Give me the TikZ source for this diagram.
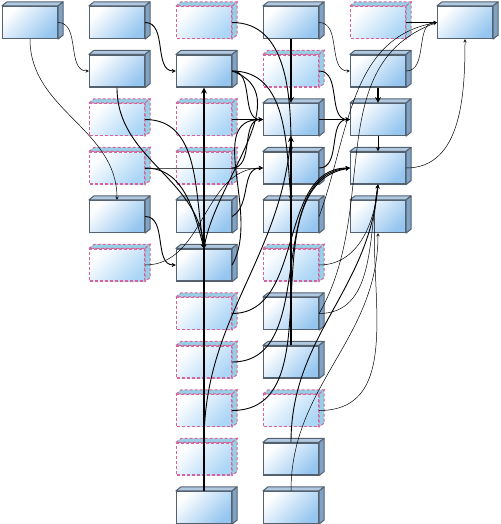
\documentclass[tikz,border=0pt]{standalone}
\usepackage{tikz}

\definecolor{cellblue}{RGB}{150,198,240}
\definecolor{ghostblue}{RGB}{172,214,246}
\definecolor{celledge}{RGB}{84,98,112}
\definecolor{celltop}{RGB}{176,200,224}
\definecolor{cellside}{RGB}{128,162,196}
\definecolor{ghostedge}{RGB}{214,100,154}
\definecolor{ghostside}{RGB}{150,208,230}

\begin{document}
\begin{tikzpicture}[x=1pt,y=-1pt,>=stealth]

\tikzstyle{cell}=[rectangle,draw=celledge,line width=1.2pt,top color=white,bottom color=cellblue,shading angle=45,minimum width=55pt,minimum height=32pt,inner sep=0pt]
\tikzstyle{ghost}=[rectangle,draw=ghostedge,line width=1.1pt,dash pattern=on 3pt off 2pt,top color=white,bottom color=ghostblue,shading angle=45,minimum width=55pt,minimum height=32pt,inner sep=0pt]
\tikzstyle{celltopface}=[draw=celledge,fill=celltop,line width=1pt,line join=round]
\tikzstyle{cellsideface}=[draw=celledge,fill=cellside,line width=1pt,line join=round]
\tikzstyle{ghostface}=[draw=ghostedge,fill=ghostside,line width=1pt,dash pattern=on 3pt off 2pt]
\tikzstyle{lnk}=[->,line width=0.5pt]
\tikzstyle{mid}=[->,line width=0.9pt]
\tikzstyle{hvy}=[->,line width=1.6pt]

\useasboundingbox (0,0) rectangle (500,524);

% first column
\node[cell] (a1) at (30,22.5) {};

% second column
\node[cell] (b1) at (117,22.5) {};
\node[cell] (b2) at (117,71) {};
\node[ghost] (b3) at (117,119.5) {};
\node[ghost] (b4) at (117,168) {};
\node[cell] (b5) at (117,216.5) {};
\node[ghost] (b6) at (117,265) {};

% third column
\node[ghost] (c1) at (204,22.5) {};
\node[cell] (c2) at (204,71) {};
\node[ghost] (c3) at (204,119.5) {};
\node[ghost] (c4) at (204,168) {};
\node[cell] (c5) at (204,216.5) {};
\node[cell] (c6) at (204,265) {};
\node[ghost] (c7) at (204,313.5) {};
\node[ghost] (c8) at (204,362) {};
\node[ghost] (c9) at (204,410.5) {};
\node[ghost] (c10) at (204,459) {};
\node[cell] (c11) at (204,507.5) {};

% fourth column
\node[cell] (d1) at (291,22.5) {};
\node[ghost] (d2) at (291,71) {};
\node[cell] (d3) at (291,119.5) {};
\node[cell] (d4) at (291,168) {};
\node[cell] (d5) at (291,216.5) {};
\node[ghost] (d6) at (291,265) {};
\node[cell] (d7) at (291,313.5) {};
\node[cell] (d8) at (291,362) {};
\node[ghost] (d9) at (291,410.5) {};
\node[cell] (d10) at (291,459) {};
\node[cell] (d11) at (291,507.5) {};

% fifth column
\node[ghost] (e1) at (378,22.5) {};
\node[cell] (e2) at (378,71) {};
\node[cell] (e3) at (378,119.5) {};
\node[cell] (e4) at (378,168) {};
\node[cell] (e5) at (378,216.5) {};

% last column
\node[cell] (f1) at (465,22.5) {};

% depth faces
\foreach \n in {a1,b1,b2,b5,c2,c5,c6,c11,d1,d3,d4,d5,d7,d8,d10,d11,e2,e3,e4,e5,f1}{
  \filldraw[celltopface] (\n.north west) -- ++(5,-4) -- ([shift={(5,-4)}]\n.north east) -- (\n.north east) -- cycle;
  \filldraw[cellsideface] (\n.north east) -- ++(5,-4) -- ([shift={(5,-4)}]\n.south east) -- (\n.south east) -- cycle;
}
\foreach \n in {b3,b4,b6,c1,c3,c4,c7,c8,c9,c10,d2,d6,d9,e1}{
  \filldraw[ghostface] (\n.north west) -- ++(5,-4) -- ([shift={(5,-4)}]\n.north east) -- (\n.north east) -- cycle;
  \filldraw[ghostface] (\n.north east) -- ++(5,-4) -- ([shift={(5,-4)}]\n.south east) -- (\n.south east) -- cycle;
}

% left part
\draw[lnk] (a1.east) to[out=0,in=180] (b2.west);
\draw[lnk] (a1.south) to[out=-90,in=90] (b5.north);
\draw[mid] (b1.east) to[out=0,in=180] (c2.west);
\draw[mid] (b2.south) to[out=-90,in=95] (c6.north);
\draw[mid] (b3.east) to[out=0,in=100] (c6.north);
\draw[mid] (b4.east) to[out=0,in=105] (c6.north);
\draw[mid] (b4.east) to[out=0,in=180] (d4.west);
\draw[mid] (b5.east) to[out=0,in=180] (c6.west);
\draw[lnk] (b6.east) to[out=0,in=180] (d4.west);

% middle part
\draw[mid] (c1.east) to[out=0,in=90] (d4.north);
\draw[mid] (c2.east) to[out=0,in=180] (d3.west);
\draw[mid] (c2.east) to[out=-20,in=80] (c6.north);
\draw[mid] (c2.east) to[out=0,in=95] (d5.north);
\draw[mid] (c3.east) to[out=0,in=180] (d3.west);
\draw[mid] (c4.east) to[out=0,in=180] (d3.west);
\draw[mid] (c5.east) to[out=30,in=180] (d4.west);
\draw[mid] (c6.east) to[out=60,in=180] (d3.west);
\draw[mid] (c7.east) to[out=0,in=180] (e4.west);
\draw[mid] (c8.east) to[out=0,in=185] (e4.west);
\draw[mid] (c9.east) to[out=0,in=190] (e4.west);
\draw[hvy] (c11.north) to[out=90,in=-90] (c2.south);
\draw[mid] (c10.north) to[out=90,in=-95] (d3.south);
\draw[hvy] (d1.south) -- (d3.north);
\draw[hvy] (d8.north) to[out=90,in=-90] (d3.south);
\draw[mid] (d10.north) to[out=90,in=-95] (e4.south);
\draw[lnk] (d11.north) to[out=90,in=-90] (e5.south);

% right part
\draw[lnk] (d1.east) to[out=0,in=180] (e2.west);
\draw[mid] (d2.east) to[out=0,in=180] (e3.west);
\draw[mid] (d3.east) to[out=0,in=180] (e3.west);
\draw[mid] (d4.east) to[out=0,in=180] (e3.west);
\draw[lnk] (d6.east) to[out=0,in=-95] (e4.south);
\draw[lnk] (d7.east) to[out=0,in=-100] (e4.south);
\draw[lnk] (d9.east) to[out=0,in=-100] (e4.south);
\draw[lnk] (d5.east) to[out=70,in=190] (f1.west);
\draw[lnk] (d7.east) to[out=60,in=200] (f1.west);
\draw[hvy] (e2.south) -- (e3.north);
\draw[mid] (e3.south) -- (e4.north);
\draw[lnk] (e1.east) to[out=0,in=180] (f1.west);
\draw[lnk] (e2.east) to[out=0,in=180] (f1.west);
\draw[lnk] (e4.east) to[out=0,in=-90] (f1.south);
\end{tikzpicture}
\end{document}
